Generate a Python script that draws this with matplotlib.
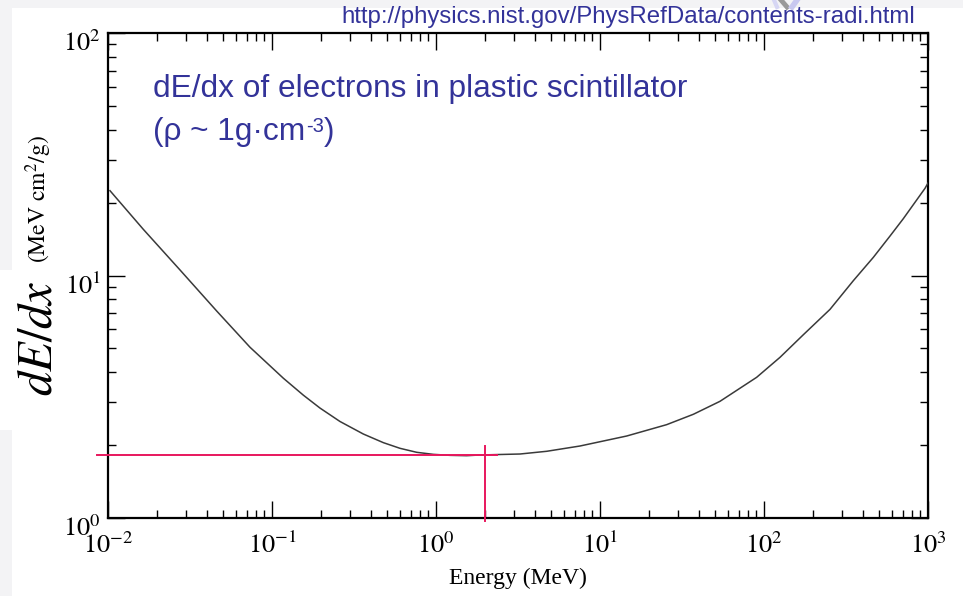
import matplotlib
matplotlib.use("Agg")
import matplotlib.pyplot as plt
import numpy as np
from matplotlib.patches import Rectangle
from matplotlib.lines import Line2D
from matplotlib.ticker import LogLocator, NullFormatter, FixedLocator, FixedFormatter
from matplotlib.transforms import ScaledTranslation

plt.rcParams["mathtext.fontset"] = "stix"

# Electron stopping power in plastic scintillator (MeV cm^2/g) vs kinetic energy (MeV)
energy = [0.01028, 0.01642, 0.02748, 0.04598, 0.07342, 0.1173, 0.1553, 0.1962,
          0.2598, 0.3604, 0.4776, 0.6033, 0.7624, 0.9632, 1.217, 1.538,
          1.855, 3.252, 4.73, 7.55, 14.54, 25.49, 37.08, 53.9, 90.2, 125.2,
          173.8, 252.6, 350.5, 464.2, 586.8, 707.4, 958.8, 1000]
dedx = [22.38, 15.50, 10.54, 7.14, 5.06, 3.77, 3.21, 2.84,
        2.50, 2.22, 2.045, 1.938, 1.866, 1.830, 1.813, 1.807,
        1.819, 1.836, 1.884, 1.981, 2.178, 2.426, 2.677, 3.028, 3.803, 4.598,
        5.70, 7.25, 9.52, 11.88, 14.55, 17.16, 22.88, 24.06]

# minimum-ionising marker
mip_energy = 2.0
mip_dedx = 1.82

xticks = [1e-2, 1e-1, 1e0, 1e1, 1e2, 1e3]
xticklabels = [r"$10^{-2}$", r"$10^{-1}$", r"$10^{0}$", r"$10^{1}$", r"$10^{2}$", r"$10^{3}$"]
yticks = [1e0, 1e1, 1e2]
yticklabels = [r"$10^{0}$", r"$10^{1}$", r"$10^{2}$"]

W, H = 963, 596
fig = plt.figure(figsize=(W / 100, H / 100), dpi=100)
fig.patch.set_facecolor("white")


def fx(x):
    return x / W


def fy(y):
    return 1 - y / H


# slide background strips
gray = "#f3f3f5"
fig.patches.append(Rectangle((0, fy(8)), 1, 8 / H, transform=fig.transFigure,
                             facecolor=gray, edgecolor="none", zorder=0))
fig.patches.append(Rectangle((0, 0), 12 / W, 1, transform=fig.transFigure,
                             facecolor=gray, edgecolor="none", zorder=0))
# small logo fragments peeking at the top
fig.lines.append(Line2D([fx(781), fx(787)], [fy(0), fy(7)], transform=fig.transFigure,
                        color="#9a9a9a", lw=3.5, zorder=1))
fig.lines.append(Line2D([fx(797), fx(792)], [fy(0), fy(7)], transform=fig.transFigure,
                        color="#c8c8f0", lw=4, zorder=1))
fig.lines.append(Line2D([fx(774), fx(777)], [fy(0), fy(7)], transform=fig.transFigure,
                        color="#d6d6f4", lw=3, zorder=1))

ax = fig.add_axes([fx(108), fy(518), 820 / W, 485 / H])
ax.set_xscale("log")
ax.set_yscale("log")
ax.set_xlim(1e-2, 1e3)
ax.set_ylim(1, 100)

ax.plot(energy, dedx, color="#3a3a3a", lw=1.1, zorder=3)

red = "#e8175d"
x_left = 10 ** (-2 - 11 / 164)
x_right = 10 ** ((497 - 108) / 164 - 2)
ax.plot([x_left, x_right], [mip_dedx, mip_dedx], color=red, lw=1.4, clip_on=False, zorder=4)
ax.plot([mip_energy, mip_energy], [10 ** (72 / 242.5), 10 ** (-3 / 242.5)], color=red,
        lw=1.4, clip_on=False, zorder=4)

for s in ax.spines.values():
    s.set_linewidth(1.6)
    s.set_color("black")

ax.xaxis.set_major_locator(FixedLocator(xticks))
ax.xaxis.set_major_formatter(FixedFormatter(xticklabels))
ax.yaxis.set_major_locator(FixedLocator(yticks))
ax.yaxis.set_major_formatter(FixedFormatter(yticklabels))
ax.xaxis.set_minor_locator(LogLocator(base=10, subs=np.arange(2, 10), numticks=50))
ax.yaxis.set_minor_locator(LogLocator(base=10, subs=np.arange(2, 10), numticks=50))
ax.xaxis.set_minor_formatter(NullFormatter())
ax.yaxis.set_minor_formatter(NullFormatter())
ax.tick_params(which="both", direction="in", top=True, right=True, color="black")
ax.tick_params(which="major", length=12.5, width=1.0, labelsize=19)
ax.tick_params(axis="x", which="major", pad=11)
ax.tick_params(axis="y", which="major", pad=5)
ax.tick_params(which="minor", length=6, width=1.0)

shift = ScaledTranslation(0, -0.08, fig.dpi_scale_trans)
for lab in ax.get_yticklabels():
    lab.set_transform(lab.get_transform() + shift)

ax.set_xlabel("Energy (MeV)", fontsize=17, family="Liberation Serif", labelpad=6)

# partial axis title left visible beside the big label
fig.text(fx(39), fy(263), r"$\mathrm{(MeV\ cm^{2}/g)}$", fontsize=17, rotation=90,
         rotation_mode="anchor", ha="left", va="center")
fig.patches.append(Rectangle((0, fy(430)), 60 / W, 160 / H, transform=fig.transFigure,
                             facecolor="white", edgecolor="none", zorder=5))
fig.text(fx(37), fy(338), r"$dE/dx$", fontsize=35, rotation=90, ha="center",
         va="center", zorder=6)

blue = "#333399"
fig.text(fx(915), fy(23), "http://physics.nist.gov/PhysRefData/contents-radi.html",
         fontsize=17.3, family="Liberation Sans", color=blue, ha="right", va="baseline")
fig.text(fx(153), fy(97), "dE/dx of electrons in plastic scintillator",
         fontsize=22.8, family="Liberation Sans", color=blue, va="baseline")

t1 = fig.text(fx(153), fy(140), "(\u03c1 ~ 1g\u00b7cm", fontsize=22.8,
              family="Liberation Sans", color=blue, va="baseline")
fig.canvas.draw()
renderer = fig.canvas.get_renderer()
bb = t1.get_window_extent(renderer)
t2 = fig.text(bb.x1 / W + 0.5 / W, fy(140) + 8 / H, "-3", fontsize=14.5,
              family="Liberation Sans", color=blue, va="baseline")
bb2 = t2.get_window_extent(renderer)
fig.text(bb2.x1 / W + 0.5 / W, fy(140), ")", fontsize=22.8,
         family="Liberation Sans", color=blue, va="baseline")

fig.savefig("out.png", dpi=100, facecolor=fig.get_facecolor())
